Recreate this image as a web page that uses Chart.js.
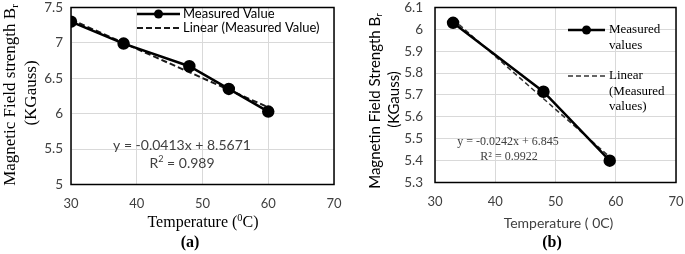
<!DOCTYPE html>
<html>
<head>
<meta charset="utf-8">
<script src="https://cdn.jsdelivr.net/npm/chart.js@4/dist/chart.umd.min.js"></script>
<style>
  html, body { margin: 0; padding: 0; background: #fff; }
  #wrap { position: relative; width: 685px; height: 254px; }
  canvas { position: absolute; top: 0; }
</style>
</head>
<body>
<div id="wrap">
  <canvas id="chartA" width="345" height="254" style="left:0"></canvas>
  <canvas id="chartB" width="340" height="254" style="left:345px"></canvas>
</div>
<script>
// (a) measured field vs temperature
const tempA = [30, 38, 48, 54, 60];
const fieldA = [7.3, 6.99, 6.67, 6.35, 6.03];
const trendTempA = [30, 60];
const trendFieldA = [7.33, 6.09];
const xTicksA = [30, 40, 50, 60, 70];
const yTicksA = [5, 5.5, 6, 6.5, 7, 7.5];

// (b)
const tempB = [33, 48, 59];
const fieldB = [6.03, 5.715, 5.40];
const trendTempB = [33, 59];
const trendFieldB = [6.046, 5.417];
const xTicksB = [30, 40, 50, 60, 70];
const yTicksB = [5.3, 5.4, 5.5, 5.6, 5.7, 5.8, 5.9, 6, 6.1];

const SERIF = '"Liberation Serif", "Times New Roman", serif';
const SANS = 'Lato, "Open Sans", sans-serif';

const toPts = (xs, ys) => xs.map((x, i) => ({ x: x, y: ys[i] }));

// draw a run of text pieces; piece = [text, "sup"|"sub"|undefined]
function drawRich(ctx, pieces, x, y, size, family, weight, align) {
  const small = size * 0.65;
  const fnt = (s) => (weight || "") + " " + s + "px " + family;
  let total = 0;
  const widths = pieces.map(([t, kind]) => {
    ctx.font = fnt(kind ? small : size);
    const w = ctx.measureText(t).width;
    total += w;
    return w;
  });
  let cx = align === "left" ? x : x - total / 2;
  ctx.textAlign = "left";
  ctx.textBaseline = "middle";
  pieces.forEach(([t, kind], i) => {
    ctx.font = fnt(kind ? small : size);
    let dy = 0;
    if (kind === "sup") dy = -size * 0.3;
    if (kind === "sub") dy = size * 0.25;
    ctx.fillText(t, cx, y + dy);
    cx += widths[i];
  });
}

const decorPlugin = {
  id: "decor",
  beforeDatasetsDraw(chart) {
    const { ctx, chartArea: a } = chart;
    ctx.save();
    ctx.strokeStyle = "#000";
    ctx.lineWidth = 1.5;
    ctx.strokeRect(a.left, a.top, a.right - a.left, a.bottom - a.top);
    ctx.restore();
  },
  afterDraw(chart, args, opts) {
    const ctx = chart.ctx;
    ctx.save();
    ctx.fillStyle = "#000";
    // rotated y title
    opts.yTitle.forEach((ln) => {
      ctx.save();
      ctx.translate(ln.x, ln.y);
      ctx.rotate(-Math.PI / 2);
      drawRich(ctx, ln.pieces, 0, 0, ln.size, ln.family);
      ctx.restore();
    });
    opts.texts.forEach((t) => {
      ctx.fillStyle = t.color || "#000";
      drawRich(ctx, t.pieces, t.x, t.y, t.size, t.family, t.weight, t.align);
    });
    // legend
    const lg = opts.legend;
    lg.items.forEach((it) => {
      const ds = chart.data.datasets[it.index];
      ctx.strokeStyle = ds.borderColor;
      ctx.lineWidth = ds.borderWidth;
      ctx.setLineDash(ds.borderDash || []);
      ctx.beginPath();
      ctx.moveTo(lg.x0, it.y);
      ctx.lineTo(lg.x1, it.y);
      ctx.stroke();
      ctx.setLineDash([]);
      if (ds.pointRadius > 0) {
        ctx.fillStyle = ds.pointBackgroundColor;
        ctx.beginPath();
        ctx.arc((lg.x0 + lg.x1) / 2, it.y, ds.pointRadius - 0.5, 0, Math.PI * 2);
        ctx.fill();
      }
      ctx.fillStyle = "#000";
      it.lines.forEach((txt, k) => {
        drawRich(ctx, [[txt]], lg.tx, it.y + k * lg.lh, lg.size, lg.family, "", "left");
      });
    });
    ctx.restore();
  },
};

const fmt = (v) => String(+Number(v).toFixed(2));

function makeChart(id, cfg) {
  const area = cfg.area;
  const W = cfg.w, H = 254;
  return new Chart(document.getElementById(id), {
    type: "scatter",
    data: {
      datasets: [
        {
          label: cfg.label1,
          data: cfg.points,
          showLine: true,
          borderColor: "#000",
          backgroundColor: "#000",
          pointBackgroundColor: "#000",
          pointBorderColor: "#000",
          borderWidth: 2.5,
          pointRadius: 5,
        },
        {
          label: cfg.label2,
          data: cfg.trend,
          showLine: true,
          borderColor: cfg.trendColor,
          borderWidth: cfg.trendWidth,
          borderDash: cfg.dash,
          pointRadius: 0,
        },
      ],
    },
    options: {
      responsive: false,
      animation: false,
      devicePixelRatio: 1,
      layout: { padding: { left: 0, top: area.top, right: W - area.right, bottom: 0 } },
      plugins: {
        legend: { display: false },
        tooltip: { enabled: false },
        decor: cfg.decor,
      },
      scales: {
        x: {
          type: "linear",
          min: 30,
          max: 70,
          afterBuildTicks: (s) => { s.ticks = cfg.xTicks.map((v) => ({ value: v })); },
          afterFit: (s) => { s.height = H - area.bottom; s.paddingLeft = 0; s.paddingRight = 0; },
          grid: { color: "#d9d9d9", lineWidth: 1, drawTicks: false },
          border: { display: false },
          ticks: { padding: 12, color: "#404040", font: { family: SANS, size: 13 }, callback: fmt },
        },
        y: {
          min: cfg.yTicks[0],
          max: cfg.yTicks[cfg.yTicks.length - 1],
          afterBuildTicks: (s) => { s.ticks = cfg.yTicks.map((v) => ({ value: v })); },
          afterFit: (s) => { s.width = area.left; s.paddingTop = 0; s.paddingBottom = 0; },
          grid: { color: "#d9d9d9", lineWidth: 1, drawTicks: false },
          border: { display: false },
          ticks: { padding: cfg.yPad, color: "#404040", font: { family: SANS, size: 13.5 }, callback: fmt },
        },
      },
    },
    plugins: [decorPlugin],
  });
}

makeChart("chartA", {
  w: 345,
  area: { left: 71, right: 334, top: 6, bottom: 184.5 },
  points: toPts(tempA, fieldA),
  trend: toPts(trendTempA, trendFieldA),
  label1: "Measured Value",
  label2: "Linear (Measured Value)",
  trendColor: "#1a1a1a",
  trendWidth: 2,
  dash: [6, 3],
  xTicks: xTicksA,
  yTicks: yTicksA,
  yPad: 8,
  decor: {
    yTitle: [
      { x: 11, y: 95, size: 17, family: SERIF, pieces: [["Magnetic Field strength B"], ["r", "sub"]] },
      { x: 32, y: 93, size: 17, family: SERIF, pieces: [["(KGauss)"]] },
    ],
    texts: [
      { x: 203, y: 223, size: 16, family: SERIF, pieces: [["Temperature ("], ["0", "sup"], ["C)"]] },
      { x: 190, y: 243, size: 16, family: SERIF, weight: "bold", pieces: [["(a)"]] },
      { x: 182, y: 145, size: 14, family: SANS, color: "#404040", pieces: [["y = -0.0413x + 8.5671"]] },
      { x: 182, y: 163, size: 14, family: SANS, color: "#404040", pieces: [["R"], ["2", "sup"], [" = 0.989"]] },
    ],
    legend: {
      x0: 137, x1: 180, tx: 183, size: 13, family: SANS, lh: 15,
      items: [
        { index: 0, y: 14, lines: ["Measured Value"] },
        { index: 1, y: 28, lines: ["Linear (Measured Value)"] },
      ],
    },
  },
});

makeChart("chartB", {
  w: 340,
  area: { left: 90, right: 331, top: 7.5, bottom: 182.5 },
  points: toPts(tempB, fieldB),
  trend: toPts(trendTempB, trendFieldB),
  label1: "Measured values",
  label2: "Linear (Measured values)",
  trendColor: "#333",
  trendWidth: 1.5,
  dash: [5, 3],
  xTicks: xTicksB,
  yTicks: yTicksB,
  yPad: 12,
  decor: {
    yTitle: [
      { x: 30, y: 101, size: 15, family: SANS, pieces: [["Magnetin Field Strength B"], ["r", "sub"]] },
      { x: 49, y: 99.5, size: 15, family: SANS, pieces: [["(KGauss)"]] },
    ],
    texts: [
      { x: 213.5, y: 223, size: 14, family: SANS, color: "#404040", pieces: [["Temperature ( 0C)"]] },
      { x: 207, y: 243, size: 16, family: SERIF, weight: "bold", pieces: [["(b)"]] },
      { x: 163, y: 142, size: 12, family: SERIF, color: "#404040", pieces: [["y = -0.0242x + 6.845"]] },
      { x: 164, y: 157, size: 12, family: SERIF, color: "#404040", pieces: [["R² = 0.9922"]] },
    ],
    legend: {
      x0: 223, x1: 260, tx: 264, size: 13, family: SERIF, lh: 15.5,
      items: [
        { index: 0, y: 30, lines: ["Measured", "values"] },
        { index: 1, y: 76, lines: ["Linear", "(Measured", "values)"] },
      ],
    },
  },
});
</script>
</body>
</html>
